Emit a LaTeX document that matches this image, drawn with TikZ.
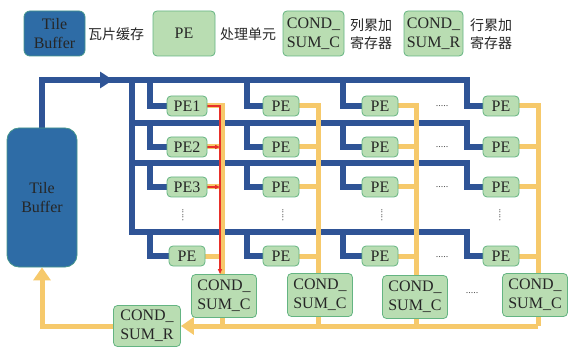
\documentclass[tikz,border=0pt]{standalone}
\usepackage{fontspec}
\setmainfont{Liberation Serif}
\newfontfamily\cjk{Noto Sans CJK SC}
\usetikzlibrary{arrows.meta, backgrounds}
\definecolor{tilefill}{RGB}{46,108,166}
\definecolor{tileedge}{RGB}{70,150,140}
\definecolor{busblue}{RGB}{47,84,150}
\definecolor{pefill}{RGB}{185,221,178}
\definecolor{peedge}{RGB}{100,180,130}
\definecolor{sumyellow}{RGB}{246,201,107}
\definecolor{sumred}{RGB}{232,48,42}

\begin{document}
\begin{tikzpicture}[x=1pt, y=-1pt,
        pe/.style={draw=peedge, fill=pefill, rounded corners=4pt, line width=0.8pt,
                   minimum width=36pt, minimum height=20pt, inner sep=1pt,
                   text=black!85, font=\fontsize{16}{19}\selectfont},
        sum/.style={pe, minimum width=65pt, minimum height=43pt, align=center},
        buf/.style={draw=tileedge, fill=tilefill, rounded corners=6pt, line width=0.8pt,
                    align=center, text=black!85, font=\fontsize{16}{19}\selectfont},
        cn/.style={align=center, text=black!85, font=\cjk\fontsize{14}{18}\selectfont},
        dots/.style={text=black!70, font=\fontsize{10}{10}\selectfont},
        bus/.style={draw=busblue, line width=6pt},
        yel/.style={draw=sumyellow, line width=5pt},
        redl/.style={draw=sumred, line width=1.4pt}]
      \useasboundingbox (0,0) rectangle (568,350);
      % legend
      \node[buf, minimum width=61pt, minimum height=45pt] (ltb) at (54.5,33.5) {Tile\\Buffer};
      \node[cn] (ltbt) at (116,34) {瓦片缓存};
      \node[pe, minimum width=62pt, minimum height=45pt] (lpe) at (184,33.5) {PE};
      \node[cn] (lpet) at (248,34) {处理单元};
      \node[sum, minimum width=61pt, minimum height=45pt] (lsc) at (313.5,33.5) {COND\_\\SUM\_C};
      \node[cn] (lsct) at (371,34) {列累加\\寄存器};
      \node[sum, minimum width=59pt, minimum height=45pt] (lsr) at (433.5,33.5) {COND\_\\SUM\_R};
      \node[cn] (lsrt) at (491,34) {行累加\\寄存器};
      % buffer and PE array
      \node[buf, minimum width=70pt, minimum height=139pt, rounded corners=12pt] (tb) at (42,197.5) {Tile\\Buffer};
      \node[pe, minimum width=40pt] (pe11) at (187,106) {PE1};
      \node[pe] (pe12) at (281,106) {PE};
      \node[pe] (pe13) at (380,106) {PE};
      \node[pe] (pe14) at (501,106) {PE};
      \node[pe, minimum width=40pt] (pe21) at (187,147) {PE2};
      \node[pe] (pe22) at (281,147) {PE};
      \node[pe] (pe23) at (380,147) {PE};
      \node[pe] (pe24) at (501,147) {PE};
      \node[pe, minimum width=40pt] (pe31) at (187,187) {PE3};
      \node[pe] (pe32) at (281,187) {PE};
      \node[pe] (pe33) at (380,187) {PE};
      \node[pe] (pe34) at (501,187) {PE};
      \node[pe] (pe41) at (187,256) {PE};
      \node[pe] (pe42) at (281,256) {PE};
      \node[pe] (pe43) at (380,256) {PE};
      \node[pe] (pe44) at (501,256) {PE};
      \node[sum] (c1) at (224,296) {COND\_\\SUM\_C};
      \node[sum] (c2) at (320,295) {COND\_\\SUM\_C};
      \node[sum] (c3) at (415,297) {COND\_\\SUM\_C};
      \node[sum] (c4) at (535,295) {COND\_\\SUM\_C};
      \node[sum, minimum width=67pt, minimum height=41pt] (sr) at (147,326) {COND\_\\SUM\_R};
      % dots
      \node[dots] (h1) at (442,106) {.....};
      \node[dots] (h2) at (442,147) {.....};
      \node[dots] (h3) at (442,187) {.....};
      \node[dots] (h4) at (442,257) {.....};
      \node[dots] (h5) at (472,293) {.....};
      \node[dots, rotate=90] (v1) at (183,215) {.....};
      \node[dots, rotate=90] (v2) at (283,215) {.....};
      \node[dots, rotate=90] (v3) at (382,215) {.....};
      \node[dots, rotate=90] (v4) at (500,215) {.....};
      % bus points
      \coordinate (r1) at (132,80);
      \coordinate (r2) at (132,123);
      \coordinate (r3) at (132,163);
      \coordinate (r4) at (132,232);
      \coordinate (arr) at (113,80);
      \coordinate (k1) at (150,0);
      \coordinate (k2) at (247,0);
      \coordinate (k3) at (343,0);
      \coordinate (k4) at (467,0);
      \coordinate (yc1) at (222,0);
      \coordinate (yc2) at (318,0);
      \coordinate (yc3) at (416,0);
      \coordinate (yc4) at (538,0);
      \coordinate (rx) at (220,0);
      \begin{scope}[on background layer]
        % blue bus
        \draw[bus] (tb.north) |- (k4 |- r1) |- (pe14.west);
        \draw[bus, -{Triangle[length=13pt, width=16pt]}] (tb.north |- r1) -- (arr);
        \draw[bus] (r1) -- (r4) -- (k4 |- r4) |- (pe44.west);
        \draw[bus] (r2) -- (k4 |- r2) |- (pe24.west);
        \draw[bus] (r3) -- (k4 |- r3) |- (pe34.west);
        \draw[bus] (k1 |- r1) |- (pe11.west);
        \draw[bus] (k2 |- r1) |- (pe12.west);
        \draw[bus] (k3 |- r1) |- (pe13.west);
        \draw[bus] (k1 |- r2) |- (pe21.west);
        \draw[bus] (k2 |- r2) |- (pe22.west);
        \draw[bus] (k3 |- r2) |- (pe23.west);
        \draw[bus] (k1 |- r3) |- (pe31.west);
        \draw[bus] (k2 |- r3) |- (pe32.west);
        \draw[bus] (k3 |- r3) |- (pe33.west);
        \draw[bus] (k1 |- r4) |- (pe41.west);
        \draw[bus] (k2 |- r4) |- (pe42.west);
        \draw[bus] (k3 |- r4) |- (pe43.west);
        % yellow sums
        \draw[yel] (pe11.east) -| (yc1 |- sr);
        \draw[yel] (pe12.east) -| (yc2 |- sr);
        \draw[yel] (pe13.east) -| (yc3 |- sr);
        \draw[yel] (pe14.east) -| (yc4 |- sr);
        \draw[yel] (pe21.east) -- (pe21 -| yc1);
        \draw[yel] (pe22.east) -- (pe22 -| yc2);
        \draw[yel] (pe23.east) -- (pe23 -| yc3);
        \draw[yel] (pe24.east) -- (pe24 -| yc4);
        \draw[yel] (pe31.east) -- (pe31 -| yc1);
        \draw[yel] (pe32.east) -- (pe32 -| yc2);
        \draw[yel] (pe33.east) -- (pe33 -| yc3);
        \draw[yel] (pe34.east) -- (pe34 -| yc4);
        \draw[yel] (pe41.east) -- (pe41 -| yc1);
        \draw[yel] (pe42.east) -- (pe42 -| yc2);
        \draw[yel] (pe43.east) -- (pe43 -| yc3);
        \draw[yel] (pe44.east) -- (pe44 -| yc4);
        \draw[yel, -{Triangle[length=13pt, width=17pt]}] (yc4 |- sr) -- (sr.east);
        \draw[yel, -{Triangle[length=13pt, width=17pt]}] (sr.west) -| (tb.south);
        % red path of column 1
        \draw[redl, -{Triangle[length=5pt, width=4pt]}] (pe11.east) -| (rx |- c1.north);
        \draw[redl, -{Triangle[length=5pt, width=4pt]}] (pe21.east) -- (pe21 -| rx);
        \draw[redl, -{Triangle[length=5pt, width=4pt]}] (pe31.east) -- (pe31 -| rx);
      \end{scope}
    \end{tikzpicture}
\end{document}
